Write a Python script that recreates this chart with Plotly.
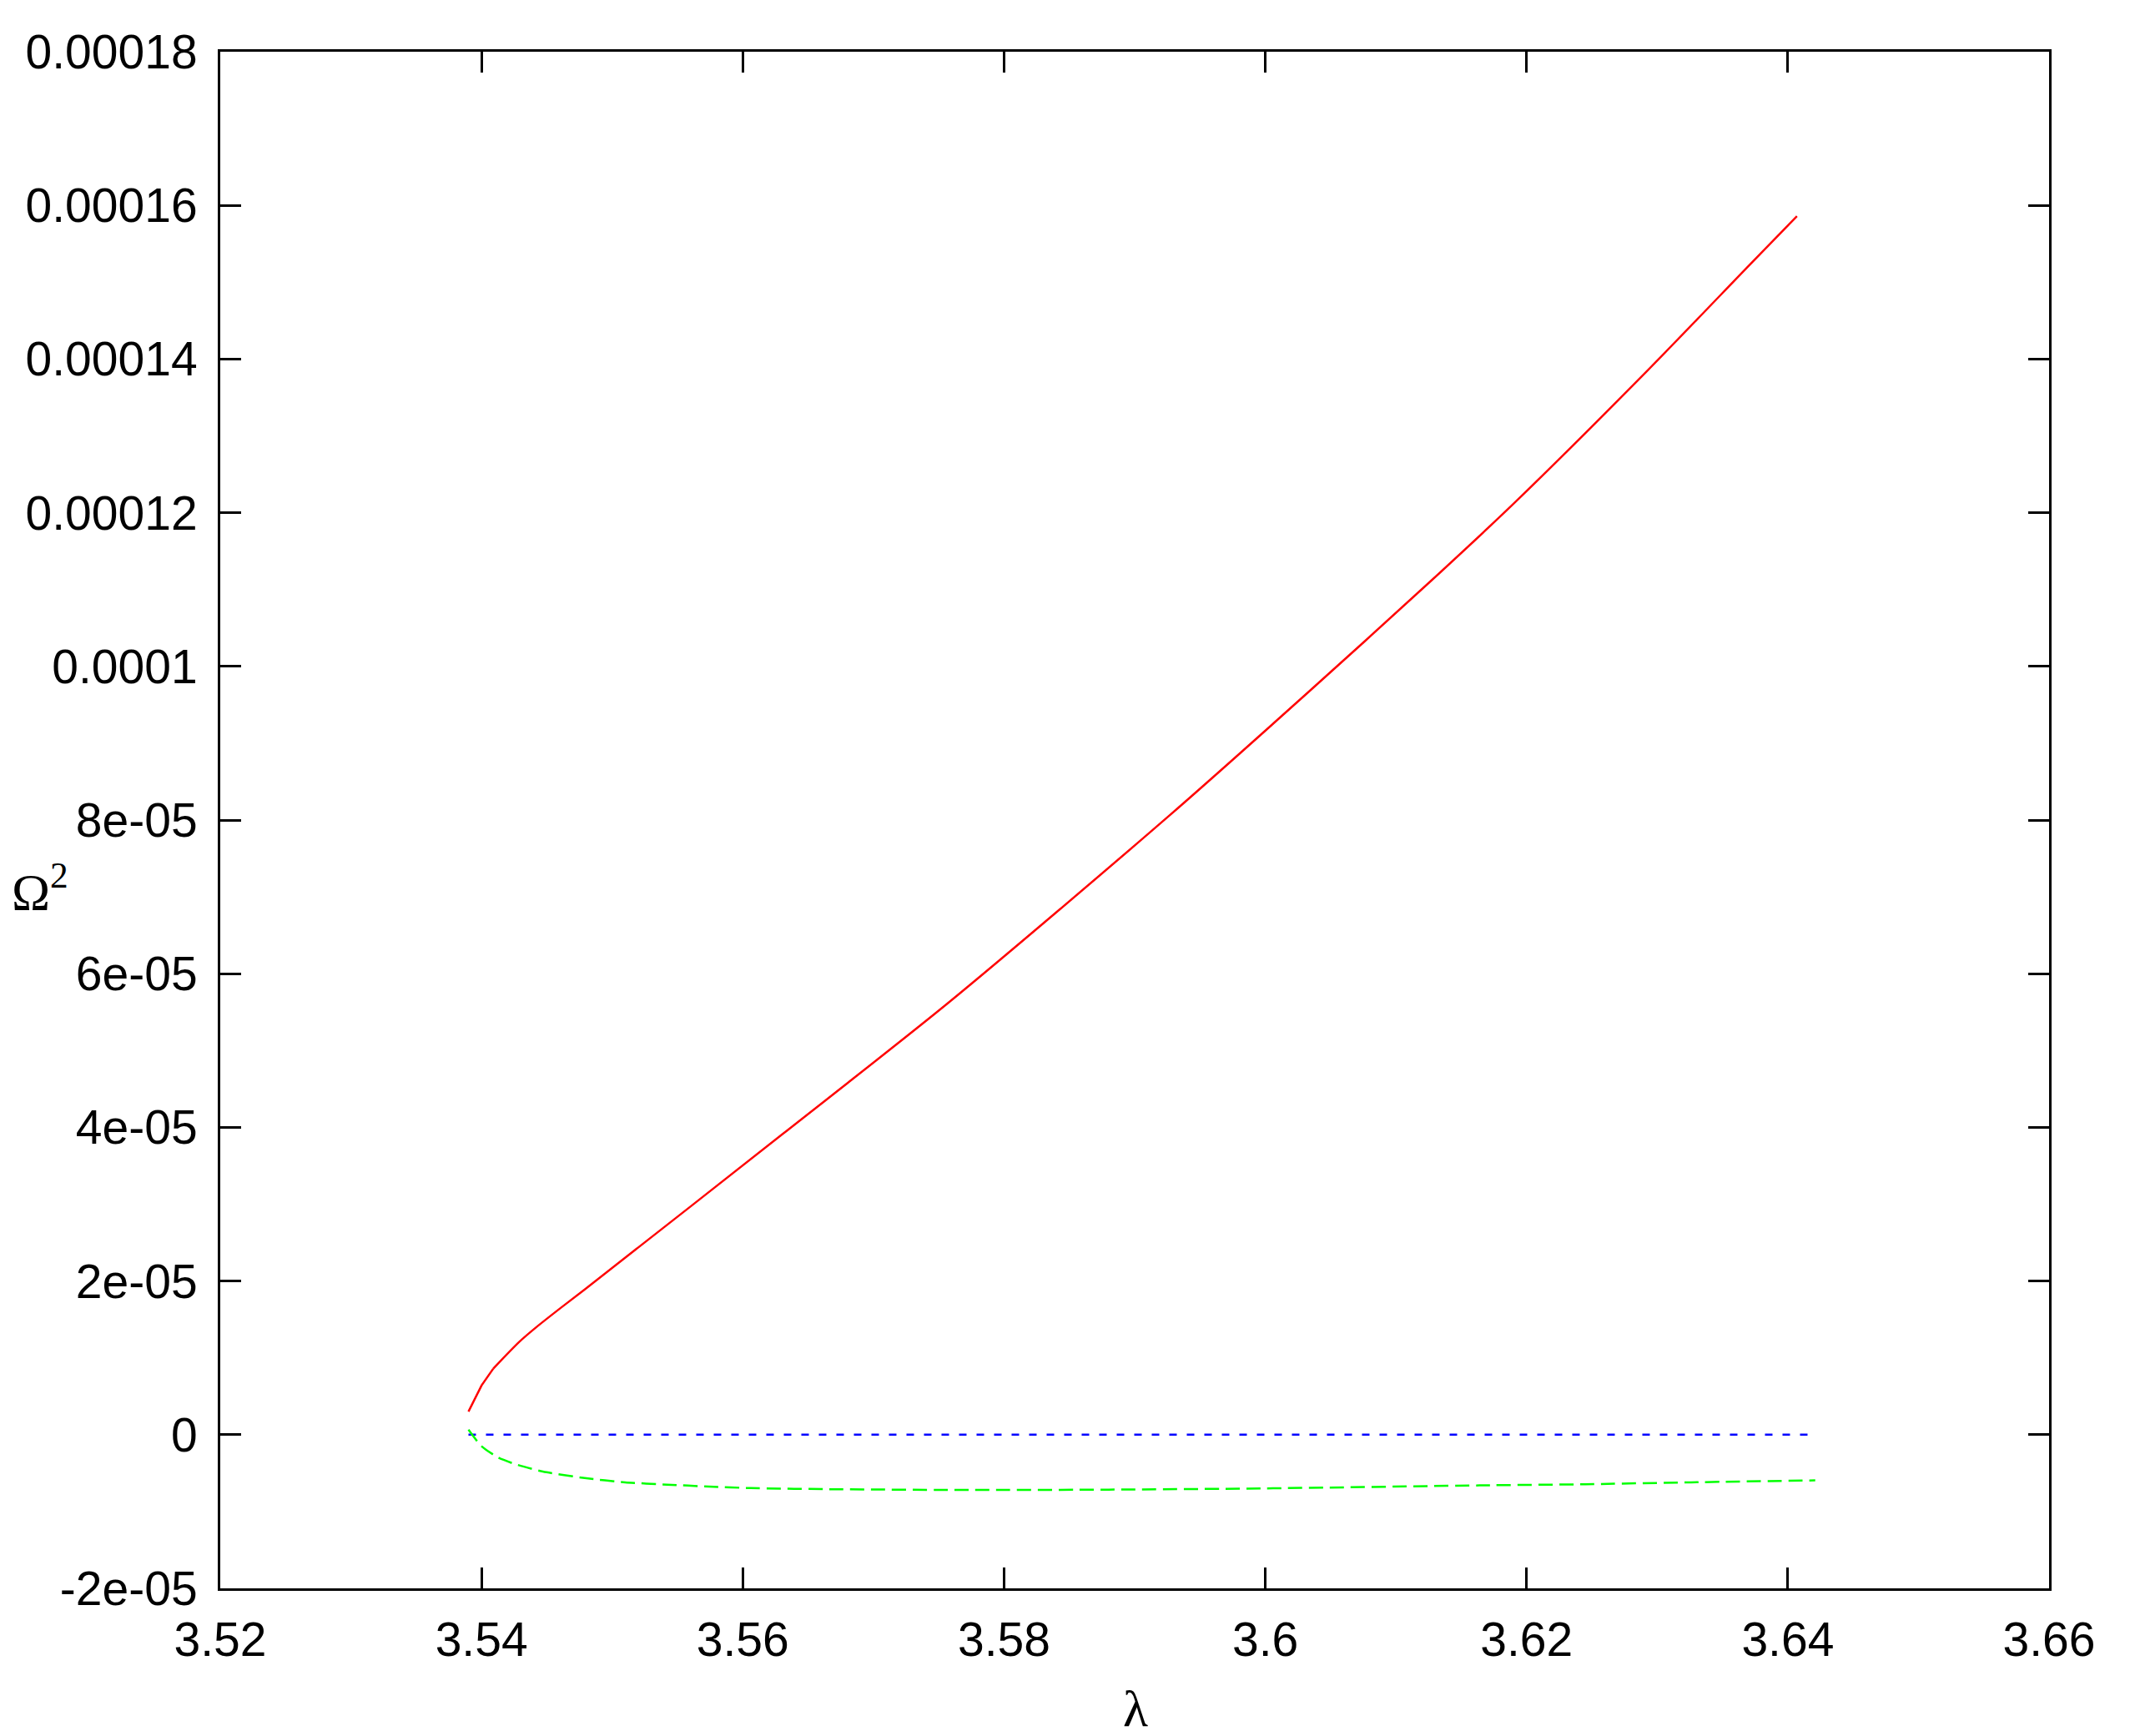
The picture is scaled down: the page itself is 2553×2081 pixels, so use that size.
import plotly.graph_objects as go

# ---- data ----
lam_red = [3.5390, 3.5400, 3.5409, 3.5429, 3.5442, 3.5461, 3.5479, 3.5631,
           3.5758, 3.5926, 3.6032, 3.6126, 3.6189, 3.6292, 3.6371, 3.6407]
om_red = [3.0e-6, 6.4e-6, 8.6e-6, 1.21e-5, 1.40e-5, 1.655e-5, 1.89e-5, 3.92e-5,
          5.63e-5, 8.05e-5, 9.65e-5, 1.110e-4, 1.210e-4, 1.384e-4, 1.523e-4, 1.586e-4]

lam_blue = [3.5390, 3.6416]
om_blue = [0.0, 0.0]

lam_green = [3.5390, 3.5400, 3.5413, 3.5427, 3.5447, 3.5479, 3.5510, 3.5542, 3.5574,
             3.5606, 3.5670, 3.5777, 3.5880, 3.5996, 3.6164, 3.6245, 3.6326, 3.6421]
om_green = [6.5e-7, -1.5e-6, -3.0e-6, -3.9e-6, -4.8e-6, -5.65e-6, -6.2e-6, -6.5e-6, -6.75e-6,
            -6.95e-6, -7.1e-6, -7.2e-6, -7.15e-6, -7.0e-6, -6.6e-6, -6.45e-6, -6.2e-6, -5.95e-6]

x_ticks = [3.52, 3.54, 3.56, 3.58, 3.60, 3.62, 3.64, 3.66]
x_tick_text = ["3.52", "3.54", "3.56", "3.58", "3.6", "3.62", "3.64", "3.66"]
y_ticks = [-2e-5, 0, 2e-5, 4e-5, 6e-5, 8e-5, 1e-4, 1.2e-4, 1.4e-4, 1.6e-4, 1.8e-4]
y_tick_text = ["-2e-05", "0", "2e-05", "4e-05", "6e-05", "8e-05", "0.0001",
               "0.00012", "0.00014", "0.00016", "0.00018"]

fig = go.Figure()
fig.add_trace(go.Scatter(x=lam_red[:3], y=om_red[:3], mode="lines",
                         line=dict(color="#ff0000", width=2.5), showlegend=False))
fig.add_trace(go.Scatter(x=lam_red[2:], y=om_red[2:], mode="lines",
                         line=dict(color="#ff0000", width=2.5, shape="spline", smoothing=0.8),
                         showlegend=False))
fig.add_trace(go.Scatter(x=lam_blue, y=om_blue, mode="lines",
                         line=dict(color="#0000ff", width=2.5, dash="9px,12px"), showlegend=False))
fig.add_trace(go.Scatter(x=lam_green, y=om_green, mode="lines",
                         line=dict(color="#00ff00", width=2.5, dash="17px,8px",
                                   shape="spline", smoothing=0.6), showlegend=False))

axis_common = dict(showline=True, linecolor="black", linewidth=3, mirror="allticks",
                   ticks="inside", ticklen=25, tickwidth=3, tickcolor="black",
                   showgrid=False, zeroline=False,
                   tickfont=dict(family="Liberation Sans, Arial, sans-serif", size=57, color="black"))

fig.update_xaxes(range=[3.52, 3.66], tickvals=x_ticks, ticktext=x_tick_text,
                 ticklabelstandoff=10, **axis_common)
fig.update_yaxes(range=[-2e-5, 1.8e-4], tickvals=y_ticks, ticktext=y_tick_text,
                 ticklabelstandoff=13, **axis_common)

fig.add_annotation(text="Ω<sup>2</sup>", xref="paper", yref="paper",
                   x=-0.115, y=0.456, xanchor="left", yanchor="middle", showarrow=False,
                   font=dict(family="Liberation Serif, Times New Roman, serif", size=62, color="black"))
fig.add_annotation(text="λ", xref="paper", yref="paper",
                   x=0.5005, y=-0.078, xanchor="center", yanchor="middle", showarrow=False,
                   font=dict(family="Liberation Serif, Times New Roman, serif", size=62, color="black"))

fig.update_layout(width=2553, height=2081, plot_bgcolor="white", paper_bgcolor="white",
                  margin=dict(l=256, r=105, t=54, b=185, autoexpand=False))

fig.write_html("out.html")
